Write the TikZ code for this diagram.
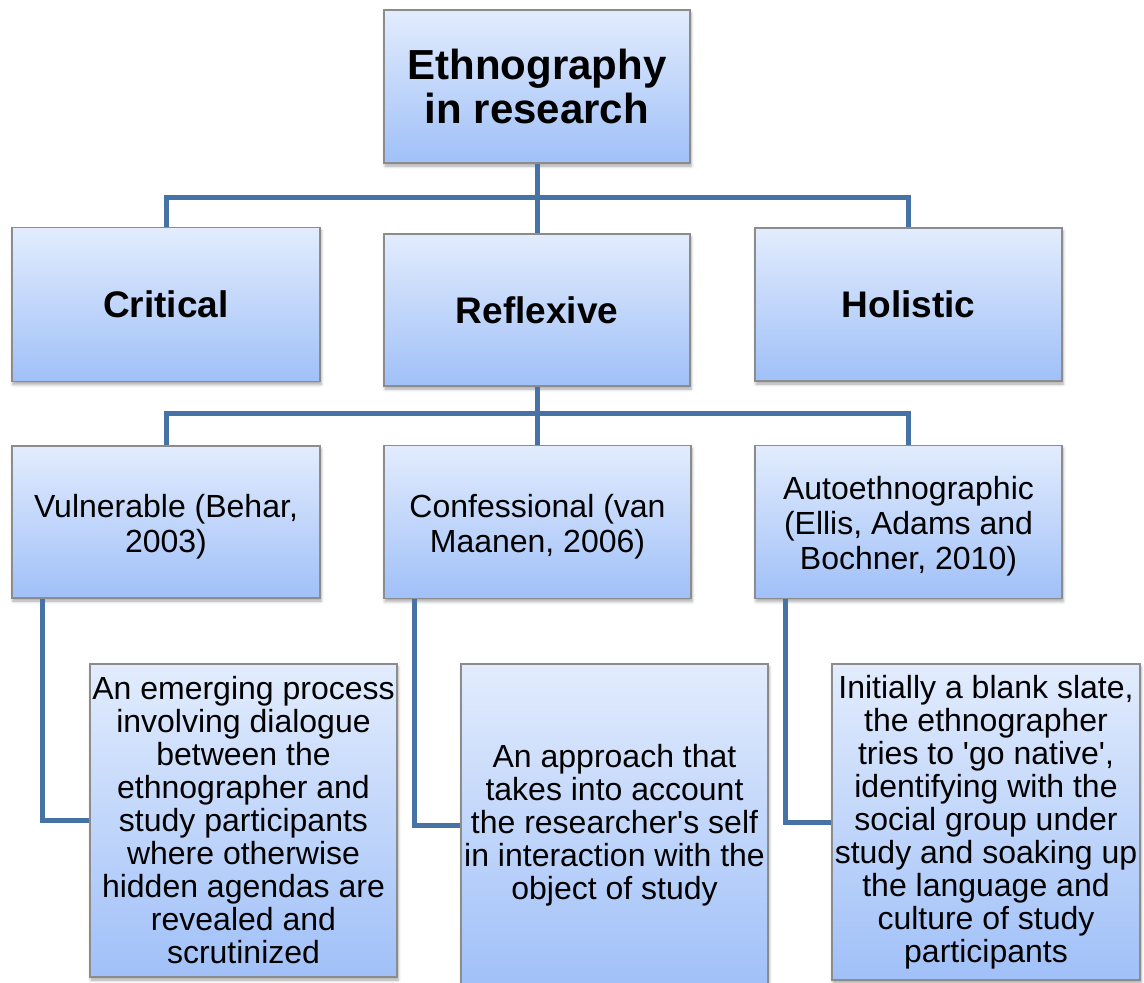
\documentclass[tikz,border=0pt]{standalone}
\usepackage{fontspec}
\setmainfont{Liberation Sans}
\usetikzlibrary{calc,shadows.blur}
\definecolor{boxtop}{RGB}{226,236,253}
\definecolor{boxbot}{RGB}{160,192,248}
\definecolor{boxedge}{RGB}{140,140,140}
\definecolor{linkblue}{RGB}{70,114,166}
\newcommand{\apos}{\textquotesingle}
% taller first line, which lowers the text a little inside its box
\newcommand{\lowfirst}{\rule{0pt}{32pt}}
\tikzset{
  card/.style={rectangle, draw=boxedge, line width=1.2pt,
    top color=boxtop, bottom color=boxbot, align=center, inner sep=0pt,
    blur shadow={shadow xshift=1pt, shadow yshift=-3pt,
      shadow blur radius=3pt, shadow opacity=35}},
  rootcard/.style={card, font=\fontsize{42}{44}\selectfont\bfseries},
  kindcard/.style={card, font=\fontsize{37}{40}\selectfont\bfseries},
  subcard/.style={card, font=\fontsize{32}{35}\selectfont},
  notecard/.style={card, font=\fontsize{32}{33}\selectfont},
  link/.style={draw=linkblue, line width=5pt, line join=miter}
}
\begin{document}
\begin{tikzpicture}[x=1pt, y=-1pt]
\useasboundingbox (0,0) rectangle (1144,983);

% junction points of the two bars
\coordinate (j1) at (537,197);
\coordinate (j2) at (537,413);

% root and the three kinds
\node[rootcard, minimum width=306pt, minimum height=153pt] (root) at (537,86.5)
  {Ethnography\\in research};
\node[kindcard, minimum width=308pt, minimum height=154pt] (crit) at (166,304.5) {Critical};
\node[kindcard, minimum width=306pt, minimum height=152pt] (refl) at (537,310) {Reflexive};
\node[kindcard, minimum width=307pt, minimum height=153pt] (holi) at (908.5,304.5) {Holistic};

% reflexive sub-types
\node[subcard, minimum width=308pt, minimum height=152pt] (vuln) at (166,522)
  {\lowfirst Vulnerable (Behar,\\2003)};
\node[subcard, minimum width=307pt, minimum height=153pt] (conf) at (537.5,522)
  {\lowfirst Confessional (van\\Maanen, 2006)};
\node[subcard, minimum width=307pt, minimum height=153pt] (auto) at (908.5,522)
  {\lowfirst Autoethnographic\\(Ellis, Adams and\\Bochner, 2010)};

% descriptions
\node[notecard, minimum width=307pt, minimum height=313pt] (dvuln) at (243.5,820.5)
  {An emerging process\\involving dialogue\\between the\\ethnographer and\\study participants\\where otherwise\\hidden agendas are\\revealed and\\scrutinized};
\node[notecard, minimum width=307pt, minimum height=323pt] (dconf) at (614.5,825.5)
  {An approach that\\takes into account\\the researcher\apos s self\\in interaction with the\\object of study};
\node[notecard, minimum width=308pt, minimum height=316pt] (dauto) at (986,822)
  {Initially a blank slate,\\the ethnographer\\tries to \apos go native\apos,\\identifying with the\\social group under\\study and soaking up\\the language and\\culture of study\\participants};

% tree connectors
\draw[link] (root.south) -- (j1);
\draw[link] (crit.north) |- (j1);
\draw[link] (holi.north) |- (j1);
\draw[link] (refl.north) -- (refl.north |- j1);

\draw[link] (refl.south) -- (j2);
\draw[link] (vuln.north) |- (j2);
\draw[link] (auto.north) |- (j2);
\draw[link] (conf.north) -- (conf.north |- j2);

% elbows down to the descriptions
\draw[link] ($(vuln.south west)!0.1!(vuln.south east)$) |- (dvuln.west);
\draw[link] ($(conf.south west)!0.1!(conf.south east)$) |- (dconf.west);
\draw[link] ($(auto.south west)!0.1!(auto.south east)$) |- (dauto.west);
\end{tikzpicture}
\end{document}
